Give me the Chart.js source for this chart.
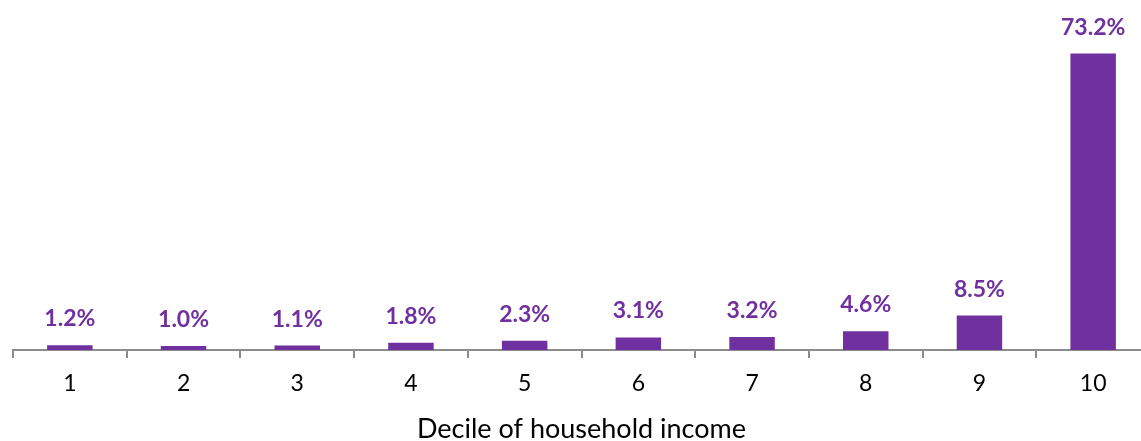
<!DOCTYPE html>
<html>
<head>
<meta charset="utf-8">
<script src="https://cdn.jsdelivr.net/npm/chart.js@4"></script>
<style>
  html, body { margin: 0; padding: 0; background: #fff; overflow: hidden; }
  #wrap { width: 1152px; height: 445px; position: relative; }
</style>
</head>
<body>
<div id="wrap"><canvas id="decileChart"></canvas></div>
<script>
const deciles = ["1", "2", "3", "4", "5", "6", "7", "8", "9", "10"];
const shares = [1.2, 1.0, 1.1, 1.8, 2.3, 3.1, 3.2, 4.6, 8.5, 73.2];
const purple = "#7030A0";

// draws the % labels above each bar
const barLabels = {
  id: "barLabels",
  afterDatasetsDraw(chart) {
    const c = chart.ctx;
    const meta = chart.getDatasetMeta(0);
    c.save();
    c.fillStyle = purple;
    c.font = "bold 23px Lato";
    c.textAlign = "center";
    c.textBaseline = "alphabetic";
    meta.data.forEach((bar, i) => {
      c.fillText(shares[i].toFixed(1) + "%", bar.x, bar.y - 19);
    });
    c.restore();
  },
};

new Chart(document.getElementById("decileChart"), {
  type: "bar",
  data: {
    labels: deciles,
    datasets: [
      {
        data: shares,
        backgroundColor: purple,
        barPercentage: 0.4,
        categoryPercentage: 1,
      },
    ],
  },
  options: {
    responsive: true,
    maintainAspectRatio: false,
    animation: false,
    layout: { padding: { left: 13, right: 2, top: 26, bottom: 0 } },
    plugins: { legend: { display: false }, tooltip: { enabled: false } },
    scales: {
      y: { display: false, min: 0, max: 80 },
      x: {
        grid: {
          offset: true,
          drawOnChartArea: false,
          tickLength: 8,
          color: "#8c8c8c",
          lineWidth: 2,
        },
        border: { color: "#8c8c8c", width: 2 },
        ticks: {
          color: "#000",
          font: { family: "Lato", size: 23 },
          padding: 12,
        },
        title: {
          display: true,
          text: "Decile of household income",
          color: "#000",
          font: { family: "Lato", size: 27 },
          padding: { top: 3, bottom: 0 },
        },
      },
    },
  },
  plugins: [barLabels],
});
</script>
</body>
</html>
